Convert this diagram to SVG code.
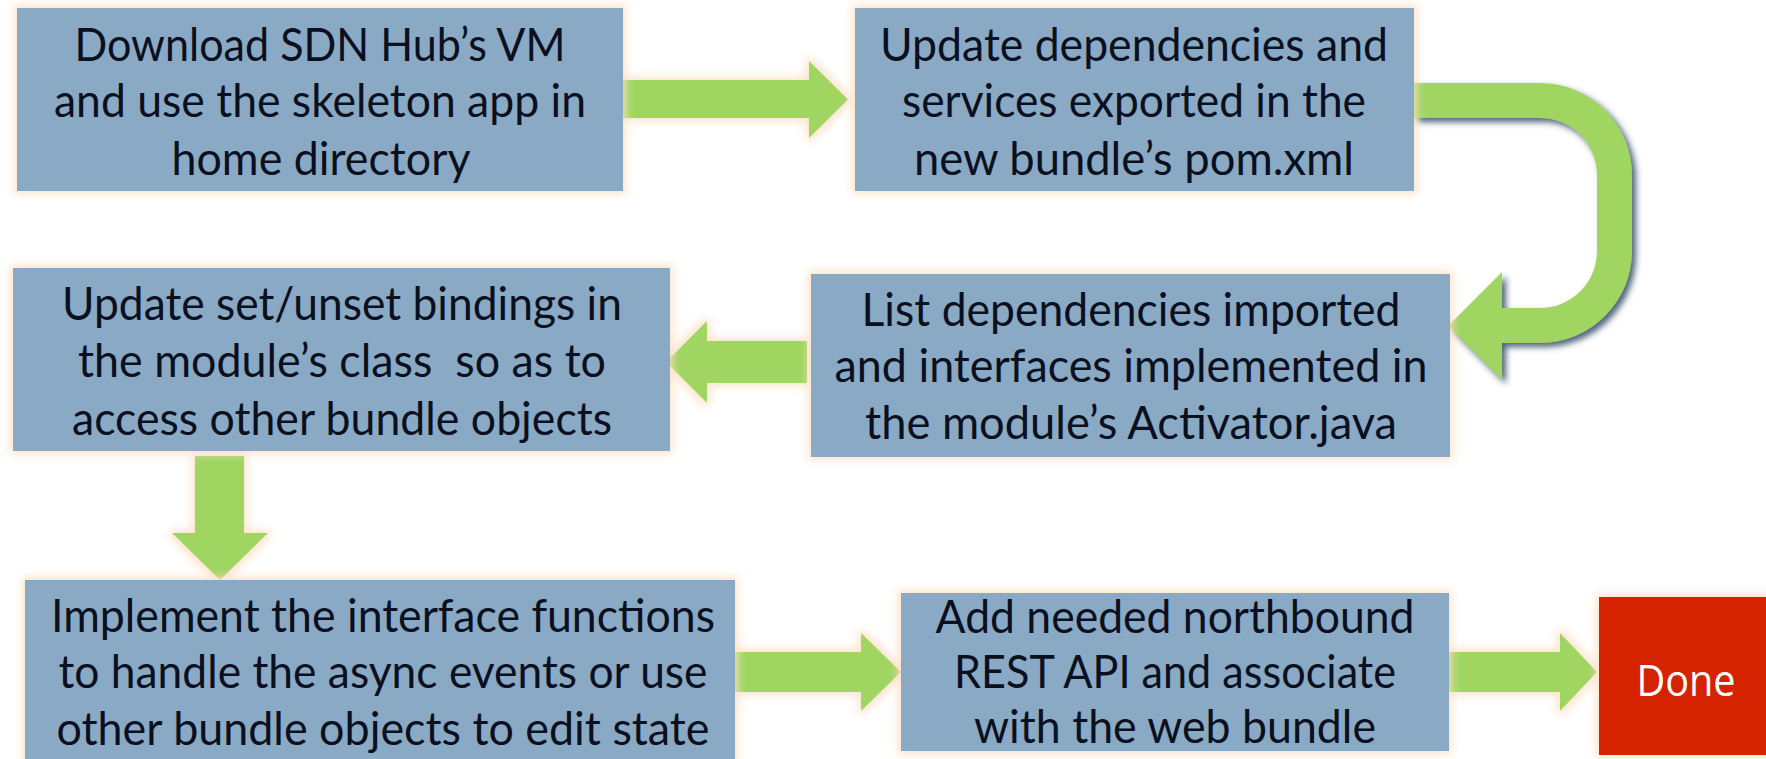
<svg xmlns="http://www.w3.org/2000/svg" width="1766" height="759" viewBox="0 0 1766 759">
<style>
.box{fill:#8AA9C4;}
.done{fill:#D52000;}
.arr{fill:#A0D562;}
.t{font-family:Lato,"Open Sans","Liberation Sans",sans-serif;font-size:46px;fill:#0B1020;text-anchor:middle;}
.w{font-family:"Open Sans",Lato,"Liberation Sans",sans-serif;font-size:44px;fill:#FFFFFF;text-anchor:middle;}
</style>
<defs>
<filter id="glow" x="-20%" y="-20%" width="140%" height="140%">
<feMorphology in="SourceAlpha" operator="dilate" radius="3" result="d"/>
<feGaussianBlur in="d" stdDeviation="4" result="b"/>
<feFlood flood-color="#FCDFC2" flood-opacity="0.85"/>
<feComposite in2="b" operator="in" result="g"/>
<feMerge><feMergeNode in="g"/><feMergeNode in="SourceGraphic"/></feMerge>
</filter>
<filter id="shadow" x="-20%" y="-20%" width="140%" height="140%">
<feGaussianBlur in="SourceAlpha" stdDeviation="3" result="b"/>
<feOffset in="b" dx="4" dy="4" result="o"/>
<feFlood flood-color="#2E4763" flood-opacity="0.85"/>
<feComposite in2="o" operator="in" result="s"/>
<feMerge><feMergeNode in="s"/><feMergeNode in="SourceGraphic"/></feMerge>
</filter>
</defs>
<rect width="1766" height="759" fill="#FFFFFF"/>

<g id="connectors">
<path class="arr" filter="url(#glow)" d="M623 80 H809 V61 L848 99.5 L809 138 V118 H623 Z"/>
<path class="arr" filter="url(#shadow)" d="M1413 83 H1540 A92 92 0 0 1 1632 175 V251 A92 92 0 0 1 1540 343 H1502 V380 L1448 326 L1502 272 V308 H1540 A57 57 0 0 0 1597 251 V175 A57 57 0 0 0 1540 118 H1413 Z"/>
<path class="arr" filter="url(#glow)" d="M807 341 H707 V321 L666 362 L707 403 V383 H807 Z"/>
<path class="arr" filter="url(#glow)" d="M195 456 H244 V533 H268 L220 580 L172 533 H195 Z"/>
<path class="arr" filter="url(#glow)" d="M735 652 H861 V633 L901 672 L861 711 V692 H735 Z"/>
<path class="arr" filter="url(#glow)" d="M1449 652 H1560 V633 L1597 672 L1560 711 V692 H1449 Z"/>
</g>

<g id="node-download">
<rect class="box" filter="url(#glow)" x="17" y="8" width="606" height="183"/>
<text class="t" x="320" y="61" textLength="491" lengthAdjust="spacingAndGlyphs">Download SDN Hub’s VM</text>
<text class="t" x="320" y="117" textLength="532" lengthAdjust="spacingAndGlyphs">and use the skeleton app in</text>
<text class="t" x="321" y="175" textLength="299" lengthAdjust="spacingAndGlyphs">home directory</text>
</g>

<g id="node-update-deps">
<rect class="box" filter="url(#glow)" x="855" y="8" width="559" height="183"/>
<text class="t" x="1134" y="61" textLength="508" lengthAdjust="spacingAndGlyphs">Update dependencies and</text>
<text class="t" x="1134" y="117" textLength="464" lengthAdjust="spacingAndGlyphs">services exported in the</text>
<text class="t" x="1134" y="175" textLength="440" lengthAdjust="spacingAndGlyphs">new bundle’s pom.xml</text>
</g>

<g id="node-list-deps">
<rect class="box" filter="url(#glow)" x="811" y="274" width="639" height="183"/>
<text class="t" x="1131" y="326" textLength="539" lengthAdjust="spacingAndGlyphs">List dependencies imported</text>
<text class="t" x="1131" y="382" textLength="593" lengthAdjust="spacingAndGlyphs">and interfaces implemented in</text>
<text class="t" x="1131" y="439" textLength="532" lengthAdjust="spacingAndGlyphs">the module’s Activator.java</text>
</g>

<g id="node-bindings">
<rect class="box" filter="url(#glow)" x="13" y="268" width="657" height="183"/>
<text class="t" x="342" y="320" textLength="560" lengthAdjust="spacingAndGlyphs">Update set/unset bindings in</text>
<text class="t" x="342" y="377" textLength="528" lengthAdjust="spacingAndGlyphs" xml:space="preserve">the module’s class  so as to</text>
<text class="t" x="342" y="435" textLength="540" lengthAdjust="spacingAndGlyphs">access other bundle objects</text>
</g>

<g id="node-implement">
<rect class="box" filter="url(#glow)" x="25" y="580" width="710" height="200"/>
<text class="t" x="383" y="632" textLength="664" lengthAdjust="spacingAndGlyphs">Implement the interface functions</text>
<text class="t" x="383" y="688" textLength="649" lengthAdjust="spacingAndGlyphs">to handle the async events or use</text>
<text class="t" x="383" y="745" textLength="653" lengthAdjust="spacingAndGlyphs">other bundle objects to edit state</text>
</g>

<g id="node-rest">
<rect class="box" filter="url(#glow)" x="901" y="593" width="548" height="158"/>
<text class="t" x="1175" y="633" textLength="479" lengthAdjust="spacingAndGlyphs">Add needed northbound</text>
<text class="t" x="1175" y="688" textLength="442" lengthAdjust="spacingAndGlyphs">REST API and associate</text>
<text class="t" x="1175" y="743" textLength="402" lengthAdjust="spacingAndGlyphs">with the web bundle</text>
</g>

<g id="node-done">
<rect class="done" filter="url(#glow)" x="1599" y="597" width="200" height="158"/>
<text class="w" x="1686" y="696" textLength="99" lengthAdjust="spacingAndGlyphs">Done</text>
</g>
</svg>
